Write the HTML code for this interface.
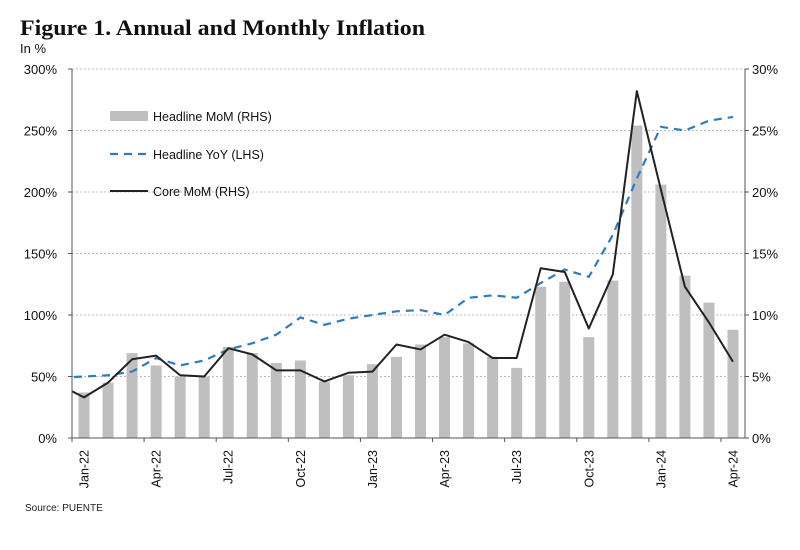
<!DOCTYPE html>
<html><head><meta charset="utf-8"><style>
body{margin:0;background:#fff;}
svg{display:block;font-family:"Liberation Sans",sans-serif;}
</style></head><body>
<svg id="chart" width="800" height="550">
<text x="20" y="35" font-family="Liberation Serif, serif" font-weight="bold" font-size="22" textLength="405" lengthAdjust="spacingAndGlyphs" fill="#111">Figure 1. Annual and Monthly Inflation</text>
<text x="20" y="53" font-size="13" fill="#111">In %</text>
<text x="25" y="511" font-size="10" fill="#222">Source: PUENTE</text>
<g id="grid"></g><g id="bars"></g><g id="lines"></g><g id="axes"></g>
<g>
<rect x="110" y="111" width="38" height="10" fill="#bfbfbf"/>
<text x="153" y="121" font-size="12.5" fill="#111">Headline MoM (RHS)</text>
<line x1="110" y1="154" x2="148" y2="154" stroke="#2f7bc0" stroke-width="2.2" stroke-dasharray="8,6"/>
<text x="153" y="159" font-size="12.5" fill="#111">Headline YoY (LHS)</text>
<line x1="110" y1="191" x2="148" y2="191" stroke="#222" stroke-width="2"/>
<text x="153" y="196" font-size="12.5" fill="#111">Core MoM (RHS)</text>
</g>
</svg>
<script>
const categories=["Jan-22","Feb-22","Mar-22","Apr-22","May-22","Jun-22","Jul-22","Aug-22","Sep-22","Oct-22","Nov-22","Dec-22","Jan-23","Feb-23","Mar-23","Apr-23","May-23","Jun-23","Jul-23","Aug-23","Sep-23","Oct-23","Nov-23","Dec-23","Jan-24","Feb-24","Mar-24","Apr-24"];
const headlineMoM=[3.7,4.5,6.9,5.9,5.0,5.0,7.4,6.9,6.1,6.3,4.6,5.1,6.0,6.6,7.6,8.2,7.7,6.6,5.7,12.3,12.7,8.2,12.8,25.4,20.6,13.2,11.0,8.8];
const coreMoM=[3.3,4.5,6.4,6.7,5.1,5.0,7.3,6.8,5.5,5.5,4.6,5.3,5.4,7.6,7.2,8.4,7.8,6.5,6.5,13.8,13.5,8.9,13.3,28.2,20.2,12.3,9.4,6.2];
const coreMoMPrior=4.3;
const headlineYoY=[50,51,54,65,59,63,72,77,84,98,92,97,100,103,104,100,114,116,114,126,137,131,165,211,253,250,258,261];
const headlineYoYPrior=49;
const leftTicks=[0,50,100,150,200,250,300];
const rightTicks=[0,5,10,15,20,25,30];
const labelEvery=3;

const NS="http://www.w3.org/2000/svg";
const L=72,R=745,T=69,B=438;
const bw=(R-L)/categories.length;
const xC=i=>L+bw*(i+0.5);
const yL=v=>B-(v/300)*(B-T);
const yR=v=>B-(v/30)*(B-T);
function mk(tag,attrs,parent){const e=document.createElementNS(NS,tag);for(const k in attrs)e.setAttribute(k,attrs[k]);parent.appendChild(e);return e;}
const svg=document.getElementById('chart');
const grid=document.getElementById('grid'),bars=document.getElementById('bars'),lines=document.getElementById('lines'),axes=document.getElementById('axes');
const defs=mk('defs',{},svg);
const cp=mk('clipPath',{id:'plotclip'},defs);
mk('rect',{x:L,y:T-20,width:R-L,height:B-T+40},cp);

leftTicks.forEach((v,i)=>{
  if(v>0){const g=mk('line',{x1:L,x2:R,y1:yL(v),y2:yL(v),stroke:'#bbb','stroke-width':1,'stroke-dasharray':'2,2'},grid);
  
  }
  const t=mk('text',{x:57,y:yL(v)+5,'text-anchor':'end','font-size':13,fill:'#111'},axes);
  t.textContent=v+'%';
  
  
  mk('line',{x1:L-4,x2:L,y1:yL(v),y2:yL(v),stroke:'#555'},axes);
});
rightTicks.forEach(v=>{
  const t=mk('text',{x:752,y:yR(v)+5,'font-size':13,fill:'#111'},axes);
  t.textContent=v+'%';
  
  
  mk('line',{x1:R,x2:R+4,y1:yR(v),y2:yR(v),stroke:'#555'},axes);
});
headlineMoM.forEach((v,i)=>{
  const r=mk('rect',{x:xC(i)-5.5,y:yR(v),width:11,height:B-yR(v),fill:'#bfbfbf'},bars);
  
  
});
function pathFrom(arr,prior,yf){let d='M'+xC(-1)+','+yf(prior);arr.forEach((v,i)=>{d+=' L'+xC(i)+','+yf(v);});return d;}
const yoy=mk('path',{d:pathFrom(headlineYoY,headlineYoYPrior,yL),fill:'none',stroke:'#2f7bc0','stroke-width':2.2,'stroke-dasharray':'8,6','clip-path':'url(#plotclip)'},lines);


const core=mk('path',{d:pathFrom(coreMoM,coreMoMPrior,yR),fill:'none',stroke:'#222','stroke-width':2,'stroke-linejoin':'round','clip-path':'url(#plotclip)'},lines);


mk('line',{x1:L,x2:L,y1:T,y2:B,stroke:'#555'},axes);
mk('line',{x1:R,x2:R,y1:T,y2:B,stroke:'#555'},axes);
mk('line',{x1:L,x2:R,y1:B,y2:B,stroke:'#555'},axes);
categories.forEach((c,i)=>{
  if(i%labelEvery===0){
    const tx=L+bw*i;
    mk('line',{x1:tx,x2:tx,y1:B,y2:B+4,stroke:'#555'},axes);
    const t=mk('text',{x:0,y:0,'text-anchor':'end','font-size':12.5,fill:'#111',transform:'translate('+(xC(i)+4.5)+','+(B+12)+') rotate(-90)'},axes);
    t.textContent=c;
    
    
  }
});
</script>
</body></html>
